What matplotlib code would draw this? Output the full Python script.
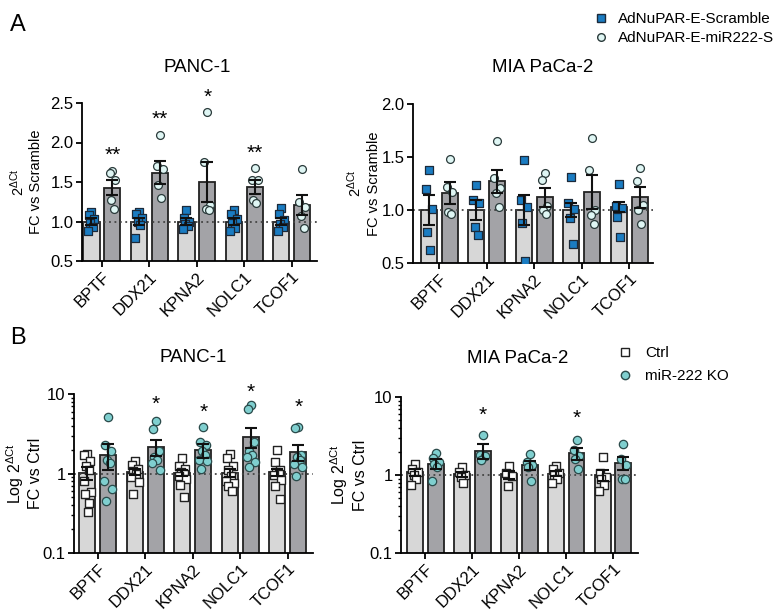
import matplotlib
matplotlib.use("Agg")
import matplotlib.pyplot as plt
import numpy as np
from matplotlib.lines import Line2D

plt.rcParams['font.family'] = ['Liberation Sans', 'DejaVu Sans']
plt.rcParams['mathtext.fontset'] = 'custom'
plt.rcParams['mathtext.rm'] = 'Liberation Sans'
plt.rcParams['mathtext.it'] = 'Liberation Sans'

genes = ['BPTF', 'DDX21', 'KPNA2', 'NOLC1', 'TCOF1']

# ---- A: PANC-1 (Scramble vs miR222-S)
a_panc_scr_mean = [1.00, 1.00, 1.00, 1.00, 1.00]
a_panc_scr_sem = [0.04, 0.05, 0.04, 0.04, 0.04]
a_panc_mir_mean = [1.43, 1.62, 1.50, 1.44, 1.21]
a_panc_mir_sem = [0.10, 0.14, 0.25, 0.09, 0.13]
a_panc_scr_pts = [[1.12, 1.08, 1.03, 0.98, 0.93, 0.88],
                  [1.12, 1.09, 1.05, 1.00, 0.95, 0.79],
                  [1.15, 1.04, 1.00, 0.97, 0.94, 0.90],
                  [1.15, 1.09, 1.03, 0.98, 0.92, 0.88],
                  [1.17, 1.09, 1.02, 0.97, 0.93, 0.88]]
a_panc_mir_pts = [[1.64, 1.62, 1.53, 1.27, 1.16],
                  [2.09, 1.70, 1.66, 1.46, 1.30],
                  [2.39, 1.75, 1.21, 1.16, 1.14],
                  [1.68, 1.53, 1.52, 1.27, 1.24],
                  [1.66, 1.25, 1.18, 1.07, 0.92]]
a_panc_stars = ['**', '**', '*', '**', '']
a_panc_star_y = [1.84, 2.29, 2.57, 1.86, 0]

# ---- A: MIA PaCa-2
a_mia_scr_mean = [1.00, 1.00, 1.00, 1.00, 1.03]
a_mia_scr_sem = [0.14, 0.09, 0.14, 0.07, 0.05]
a_mia_mir_mean = [1.16, 1.27, 1.12, 1.17, 1.12]
a_mia_mir_sem = [0.10, 0.11, 0.09, 0.16, 0.10]
a_mia_scr_pts = [[1.38, 1.20, 1.01, 0.79, 0.62],
                 [1.24, 1.09, 1.07, 0.84, 0.76],
                 [1.47, 1.09, 1.03, 0.88, 0.52],
                 [1.31, 1.07, 1.01, 0.92, 0.68],
                 [1.25, 1.04, 1.02, 0.93, 0.75]]
a_mia_mir_pts = [[1.48, 1.22, 1.17, 0.98, 0.96],
                 [1.65, 1.30, 1.21, 1.16, 1.03],
                 [1.35, 1.28, 1.04, 1.00, 0.96],
                 [1.68, 1.38, 1.00, 0.95, 0.87],
                 [1.40, 1.27, 1.05, 1.00, 0.87]]

# ---- B: PANC-1 (Ctrl vs miR-222 KO)
b_panc_ctrl_mean = [1.02, 1.05, 1.02, 1.02, 1.03]
b_panc_ctrl_sem = [0.18, 0.10, 0.10, 0.12, 0.10]
b_panc_ko_mean = [1.72, 2.17, 1.97, 2.90, 1.85]
b_panc_ko_sem = [0.60, 0.50, 0.40, 0.80, 0.43]
b_panc_ctrl_pts = [[1.78, 1.70, 1.42, 1.25, 1.10, 0.80, 0.58, 0.56, 0.42, 0.33],
                   [1.45, 1.27, 1.15, 1.08, 1.00, 0.90, 0.78, 0.55],
                   [1.55, 1.25, 1.15, 1.05, 1.00, 0.92, 0.85, 0.72, 0.50],
                   [1.75, 1.55, 1.25, 1.10, 0.92, 0.80, 0.75, 0.70, 0.60],
                   [1.95, 1.38, 1.10, 1.05, 1.00, 0.95, 0.82, 0.70, 0.48]]
b_panc_ko_pts = [[5.1, 2.3, 1.9, 1.5, 1.35, 0.80, 0.63, 0.45],
                 [4.6, 3.6, 1.9, 1.6, 1.5, 1.35, 1.12],
                 [3.9, 2.5, 2.3, 1.9, 1.7, 1.5, 1.45, 1.15],
                 [7.2, 6.4, 2.5, 1.9, 1.7, 1.6, 1.4, 1.2],
                 [3.8, 3.7, 1.7, 1.6, 1.5, 1.3, 1.2, 0.93]]
b_panc_stars = ['', '*', '*', '*', '*']
b_panc_star_y = [0, 7.4, 5.9, 10.4, 6.7]

# ---- B: MIA PaCa-2
b_mia_ctrl_mean = [1.08, 1.02, 1.02, 1.04, 1.00]
b_mia_ctrl_sem = [0.10, 0.08, 0.12, 0.07, 0.17]
b_mia_ko_mean = [1.40, 2.06, 1.33, 1.89, 1.44]
b_mia_ko_sem = [0.20, 0.45, 0.18, 0.34, 0.27]
b_mia_ctrl_pts = [[1.38, 1.20, 1.08, 1.00, 0.88, 0.75],
                  [1.27, 1.10, 1.00, 0.95, 0.80],
                  [1.30, 1.07, 0.98, 0.72],
                  [1.30, 1.18, 1.05, 1.00, 0.90, 0.78],
                  [1.72, 1.05, 0.95, 0.90, 0.75, 0.62]]
b_mia_ko_pts = [[1.90, 1.66, 1.48, 1.40, 1.28, 0.84],
                [3.3, 1.8, 1.75, 1.55],
                [1.84, 1.45, 1.35, 1.28, 0.84],
                [2.85, 2.08, 1.75, 1.62, 1.18],
                [2.5, 1.62, 1.33, 0.88, 0.88]]
b_mia_stars = ['', '*', '', '*', '']
b_mia_star_y = [0, 5.8, 0, 5.3, 0]

LIGHT = '#d7d7d7'
DARK = '#a3a3a7'
jitter = [0.0, -0.06, 0.06, -0.03, 0.03, -0.08, 0.08, -0.045, 0.045, 0.015]

sq_blue = dict(marker='s', facecolor='#1a7cc2', edgecolor='#1c2a3a', s=28, linewidths=0.9)
ci_pale = dict(marker='o', facecolor='#dff6f4', edgecolor='#2a3a3a', s=32, linewidths=0.9)
sq_white = dict(marker='s', facecolor='white', edgecolor='#222222', s=32, linewidths=1.0)
ci_teal = dict(marker='o', facecolor='#7fcfcf', edgecolor='#2a4a4a', s=36, linewidths=0.9)


def panel(ax, m1, e1, p1, m2, e2, p2, st1, st2, stars, star_y, xlim, log=False):
    x = np.arange(len(genes))
    off, w = 0.22, 0.34
    ax.bar(x - off, m1, w, color=LIGHT, edgecolor='#222222', linewidth=1.3, zorder=1)
    ax.bar(x + off, m2, w, color=DARK, edgecolor='#222222', linewidth=1.3, zorder=1)
    for i in range(len(genes)):
        ax.scatter(x[i] - off + np.array(jitter[:len(p1[i])]), p1[i], zorder=3, **st1)
        ax.scatter(x[i] + off + np.array(jitter[:len(p2[i])]), p2[i], zorder=3, **st2)
    ax.errorbar(x - off, m1, yerr=e1, fmt='none', ecolor='#111111', elinewidth=1.5,
                capsize=4, capthick=1.5, zorder=4)
    ax.errorbar(x + off, m2, yerr=e2, fmt='none', ecolor='#111111', elinewidth=1.5,
                capsize=4, capthick=1.5, zorder=4)
    ax.axhline(1.0, color='#444444', ls=(0, (1, 2)), lw=1.3, zorder=2)
    for i, s in enumerate(stars):
        if s:
            ax.text(x[i] + off, star_y[i], s, ha='center', va='center', fontsize=15,
                    clip_on=False)
    ax.set_xlim(*xlim)
    ax.set_xticks(x)
    ax.set_xticklabels(genes, rotation=45, ha='right', rotation_mode='anchor', fontsize=12)
    ax.spines['top'].set_visible(False)
    ax.spines['right'].set_visible(False)
    ax.spines['left'].set_linewidth(1.3)
    ax.spines['bottom'].set_linewidth(1.3)
    ax.tick_params(axis='both', width=1.3, length=4, labelsize=12, pad=2)
    if log:
        ax.set_yscale('log')
        ax.set_ylim(0.1, 10)
        ax.set_yticks([0.1, 1, 10])
        ax.set_yticklabels(['0.1', '1', '10'])
        ax.tick_params(axis='y', which='minor', width=1.0, length=2.5)


fig = plt.figure(figsize=(7.79, 6.16), dpi=100)
W, H = 779, 616


def add_axes(l, r, t, b):
    return fig.add_axes([l / W, 1 - b / H, (r - l) / W, (b - t) / H])


ax1 = add_axes(82, 317, 103, 261)
panel(ax1, a_panc_scr_mean, a_panc_scr_sem, a_panc_scr_pts,
      a_panc_mir_mean, a_panc_mir_sem, a_panc_mir_pts, sq_blue, ci_pale,
      a_panc_stars, a_panc_star_y, (-0.42, 4.53))
ax1.set_ylim(0.5, 2.5)
ax1.set_yticks([0.5, 1.0, 1.5, 2.0, 2.5])
ax1.set_yticklabels(['0.5', '1.0', '1.5', '2.0', '2.5'])
ax1.set_ylabel('$2^{\\Delta Ct}$\nFC vs Scramble', fontsize=10.5)
ax1.yaxis.set_label_coords(-0.166, 0.5)

ax2 = add_axes(413, 653, 104, 263)
panel(ax2, a_mia_scr_mean, a_mia_scr_sem, a_mia_scr_pts,
      a_mia_mir_mean, a_mia_mir_sem, a_mia_mir_pts, sq_blue, ci_pale,
      ['', '', '', '', ''], [0] * 5, (-0.55, 4.5))
ax2.set_ylim(0.5, 2.0)
ax2.set_yticks([0.5, 1.0, 1.5, 2.0])
ax2.set_yticklabels(['0.5', '1.0', '1.5', '2.0'])
ax2.set_ylabel('$2^{\\Delta Ct}$\nFC vs Scramble', fontsize=10.5)
ax2.yaxis.set_label_coords(-0.135, 0.5)

ax3 = add_axes(74, 313, 394, 553)
panel(ax3, b_panc_ctrl_mean, b_panc_ctrl_sem, b_panc_ctrl_pts,
      b_panc_ko_mean, b_panc_ko_sem, b_panc_ko_pts, sq_white, ci_teal,
      b_panc_stars, b_panc_star_y, (-0.5, 4.53), log=True)
ax3.set_ylabel('Log $2^{\\Delta Ct}$\nFC vs Ctrl', fontsize=11.5)
ax3.yaxis.set_label_coords(-0.13, 0.5)

ax4 = add_axes(401, 638, 397, 553)
panel(ax4, b_mia_ctrl_mean, b_mia_ctrl_sem, b_mia_ctrl_pts,
      b_mia_ko_mean, b_mia_ko_sem, b_mia_ko_pts, sq_white, ci_teal,
      b_mia_stars, b_mia_star_y, (-0.52, 4.53), log=True)
ax4.set_ylabel('Log $2^{\\Delta Ct}$\nFC vs Ctrl', fontsize=11.5)
ax4.yaxis.set_label_coords(-0.14, 0.5)

# titles and panel letters
fig.text(197 / W, 1 - 67 / H, 'PANC-1', ha='center', va='center', fontsize=13.5)
fig.text(543 / W, 1 - 67 / H, 'MIA PaCa-2', ha='center', va='center', fontsize=13.5)
fig.text(193 / W, 1 - 357 / H, 'PANC-1', ha='center', va='center', fontsize=13.5)
fig.text(518 / W, 1 - 358 / H, 'MIA PaCa-2', ha='center', va='center', fontsize=13.5)
fig.text(10 / W, 1 - 25 / H, 'A', ha='left', va='center', fontsize=17)
fig.text(10 / W, 1 - 338 / H, 'B', ha='left', va='center', fontsize=17)

# legends
h_a = [Line2D([], [], ls='none', marker='s', markerfacecolor='#1a7cc2',
              markeredgecolor='#1c2a3a', markersize=5.5),
       Line2D([], [], ls='none', marker='o', markerfacecolor='#dff6f4',
              markeredgecolor='#2a3a3a', markersize=5.5)]
fig.legend(h_a, ['AdNuPAR-E-Scramble', 'AdNuPAR-E-miR222-S'], loc='upper left',
           bbox_to_anchor=(586 / W, 1 - 6 / H), frameon=False, fontsize=11,
           handletextpad=0.5, labelspacing=0.35, handlelength=1.2, borderaxespad=0)
h_b = [Line2D([], [], ls='none', marker='s', markerfacecolor='white',
              markeredgecolor='#222222', markersize=6),
       Line2D([], [], ls='none', marker='o', markerfacecolor='#7fcfcf',
              markeredgecolor='#2a4a4a', markersize=6)]
fig.legend(h_b, ['Ctrl', 'miR-222 KO'], loc='upper left',
           bbox_to_anchor=(610 / W, 1 - 340 / H), frameon=False, fontsize=11,
           handletextpad=0.7, labelspacing=0.6, handlelength=1.2, borderaxespad=0)

fig.savefig('out.png', dpi=100)
